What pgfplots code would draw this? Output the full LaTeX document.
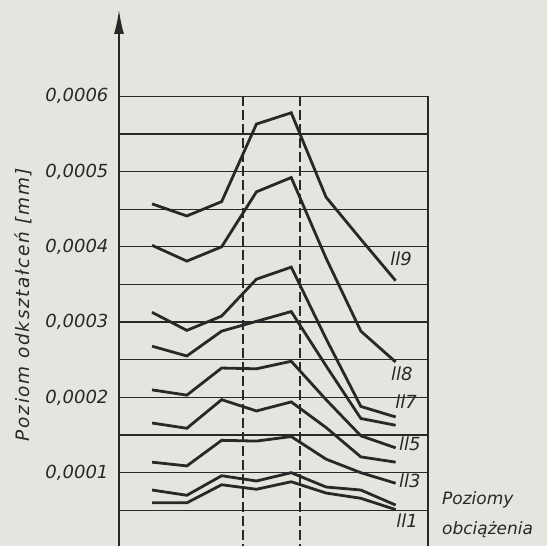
\documentclass[border=0pt]{standalone}
\usepackage{fontspec}
\setmainfont{DejaVu Sans}
\usepackage{pgfplots}
\pgfplotsset{compat=1.18}
\usetikzlibrary{arrows.meta}
\definecolor{ink}{RGB}{40,40,40}
\definecolor{paper}{RGB}{230,228,222}
\newcommand{\lab}{\itshape\fontsize{18}{20}\selectfont}
\newcommand{\labs}{\itshape\fontsize{17}{19}\selectfont}
\newcommand{\laby}{\itshape\fontsize{18.5}{20}\selectfont\addfontfeature{LetterSpace=9}}
\begin{document}
\begin{tikzpicture}
\path[use as bounding box, fill=paper] (-119pt,0pt) rectangle (428pt,546pt);
\begin{axis}[
  at={(0pt,0pt)}, anchor=south west,
  scale only axis, width=309pt, height=536pt,
  xmin=0.05, xmax=8.93, ymin=0.00000266, ymax=0.0007145,
  axis x line=none, axis y line=left,
  y axis line style={-{Latex[length=24pt,width=10pt]}, line width=1.5pt, color=ink},
  clip=false,
  scaled y ticks=false,
  ytick={0.00005,0.0001,0.00015,0.0002,0.00025,0.0003,0.00035,0.0004,0.00045,0.0005,0.00055,0.0006},
  yticklabels={{},{0,0001},{},{0,0002},{},{0,0003},{},{0,0004},{},{0,0005},{},{0,0006}},
  major tick length=0pt,
  ymajorgrids, grid style={line width=1.3pt, color=ink},
  yticklabel style={font=\lab, text=ink, xshift=-7pt},
  /pgf/number format/assume math mode=true,
  curve/.style={ink, solid, mark=none, line width=2.8pt},
]
% frame and dashed lines
\draw[line width=1.4pt, ink] (axis cs:8.93,0.0006) -- (axis cs:8.93,0.00000266);
\draw[line width=1.3pt, ink, dash pattern=on 10pt off 4pt] (axis cs:3.61,0.0006) -- (axis cs:3.61,0.00000266);
\draw[line width=1.3pt, ink, dash pattern=on 10pt off 4pt] (axis cs:5.25,0.0006) -- (axis cs:5.25,0.00000266);
% ll9
\addplot[curve] coordinates {(1,0.000457)(2,0.000441)(3,0.000460)(4,0.000563)(5,0.000578)(6,0.000466)(7,0.000410)(8,0.000355)};
% ll8
\addplot[curve] coordinates {(1,0.000402)(2,0.000381)(3,0.000400)(4,0.000473)(5,0.000492)(6,0.000385)(7,0.000288)(8,0.000247)};
% ll7
\addplot[curve] coordinates {(1,0.000313)(2,0.000289)(3,0.000308)(4,0.000357)(5,0.000373)(6,0.000278)(7,0.000188)(8,0.000174)};
% ll6
\addplot[curve] coordinates {(1,0.000268)(2,0.000255)(3,0.000288)(4,0.000301)(5,0.000314)(6,0.000242)(7,0.000172)(8,0.000163)};
% ll5
\addplot[curve] coordinates {(1,0.000210)(2,0.000203)(3,0.000239)(4,0.000238)(5,0.000248)(6,0.000197)(7,0.000149)(8,0.000133)};
% ll4
\addplot[curve] coordinates {(1,0.000166)(2,0.000159)(3,0.000197)(4,0.000182)(5,0.000194)(6,0.000160)(7,0.000121)(8,0.000114)};
% ll3
\addplot[curve] coordinates {(1,0.000114)(2,0.000109)(3,0.000143)(4,0.000142)(5,0.000148)(6,0.000118)(7,0.000100)(8,0.000086)};
% ll2
\addplot[curve] coordinates {(1,0.000077)(2,0.000070)(3,0.000096)(4,0.000089)(5,0.000100)(6,0.000081)(7,0.000077)(8,0.000057)};
% ll1
\addplot[curve] coordinates {(1,0.000060)(2,0.000060)(3,0.000084)(4,0.000078)(5,0.000088)(6,0.000073)(7,0.000066)(8,0.000051)};
% labels
\node[font=\lab, text=ink] at (axis cs:8.16,0.000384) {ll9};
\node[font=\lab, text=ink] at (axis cs:8.18,0.000232) {ll8};
\node[font=\lab, text=ink] at (axis cs:8.30,0.000195) {ll7};
\node[font=\lab, text=ink] at (axis cs:8.41,0.000139) {ll5};
\node[font=\lab, text=ink] at (axis cs:8.41,0.000089) {ll3};
\node[font=\lab, text=ink] at (axis cs:8.33,0.000036) {ll1};
\node[font=\labs, text=ink, anchor=west, inner sep=0pt] at (axis cs:9.33,0.000064) {Poziomy};
\node[font=\labs, text=ink, anchor=west, inner sep=0pt] at (axis cs:9.33,0.000024) {obciążenia};
\node[font=\laby, text=ink, rotate=90] at (axis cs:-2.71,0.000323) {Poziom odkształceń [mm]};
\end{axis}
\end{tikzpicture}
\end{document}
